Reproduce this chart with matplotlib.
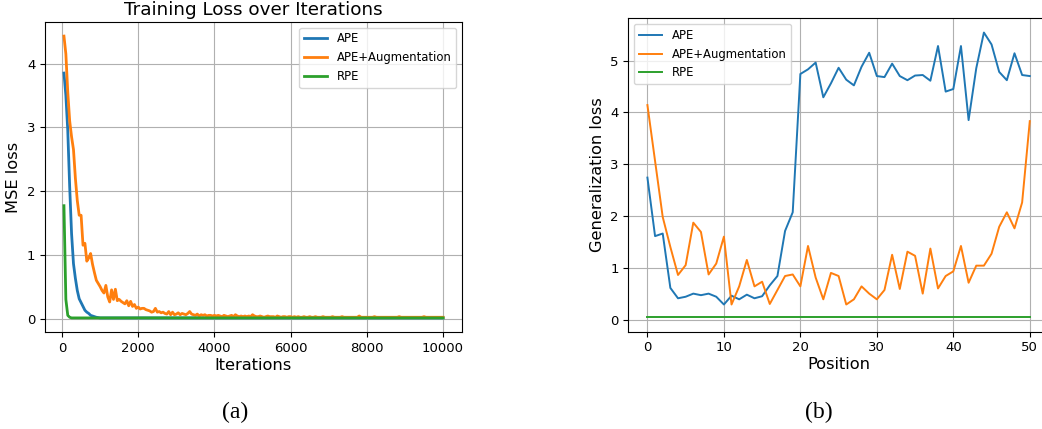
import numpy as np
import matplotlib
matplotlib.use("Agg")
import matplotlib.pyplot as plt

# ---- (a) training loss, logged every 50 iterations ----
iterations = np.arange(50, 10001, 50)

loss_ape = [
    3.85, 3.50, 2.95, 2.07, 1.33, 0.86, 0.63, 0.44, 0.31, 0.25,
    0.19, 0.13, 0.10, 0.08, 0.05, 0.04, 0.03, 0.02, 0.015, 0.01,
    0.01, 0.01, 0.01, 0.01, 0.01, 0.01, 0.01, 0.01, 0.01, 0.01,
    0.01, 0.01, 0.01, 0.01, 0.01, 0.01, 0.01, 0.01, 0.01, 0.01,
    0.01, 0.01, 0.01, 0.01, 0.01, 0.01, 0.01, 0.01, 0.01, 0.01,
    0.01, 0.01, 0.01, 0.01, 0.01, 0.01, 0.01, 0.01, 0.01, 0.01,
    0.01, 0.01, 0.01, 0.01, 0.01, 0.01, 0.01, 0.01, 0.01, 0.01,
    0.01, 0.01, 0.01, 0.01, 0.01, 0.01, 0.01, 0.01, 0.01, 0.01,
    0.01, 0.01, 0.01, 0.01, 0.01, 0.01, 0.01, 0.01, 0.01, 0.01,
    0.01, 0.01, 0.01, 0.01, 0.01, 0.01, 0.01, 0.01, 0.01, 0.01,
    0.01, 0.01, 0.01, 0.01, 0.01, 0.01, 0.01, 0.01, 0.01, 0.01,
    0.01, 0.01, 0.01, 0.01, 0.01, 0.01, 0.01, 0.01, 0.01, 0.01,
    0.01, 0.01, 0.01, 0.01, 0.01, 0.01, 0.01, 0.01, 0.01, 0.01,
    0.01, 0.01, 0.01, 0.01, 0.01, 0.01, 0.01, 0.01, 0.01, 0.01,
    0.01, 0.01, 0.01, 0.01, 0.01, 0.01, 0.01, 0.01, 0.01, 0.01,
    0.01, 0.01, 0.01, 0.01, 0.01, 0.01, 0.01, 0.01, 0.01, 0.01,
    0.01, 0.01, 0.01, 0.01, 0.01, 0.01, 0.01, 0.01, 0.01, 0.01,
    0.01, 0.01, 0.01, 0.01, 0.01, 0.01, 0.01, 0.01, 0.01, 0.01,
    0.01, 0.01, 0.01, 0.01, 0.01, 0.01, 0.01, 0.01, 0.01, 0.01,
    0.01, 0.01, 0.01, 0.01, 0.01, 0.01, 0.01, 0.01, 0.01, 0.01,
]

loss_ape_aug = [
    4.43, 4.15, 3.55, 3.10, 2.85, 2.65, 2.20, 1.85, 1.62, 1.62,
    1.15, 1.18, 0.90, 0.95, 1.02, 0.85, 0.72, 0.60, 0.55, 0.50,
    0.44, 0.40, 0.52, 0.34, 0.26, 0.45, 0.30, 0.46, 0.28, 0.30,
    0.27, 0.25, 0.23, 0.28, 0.20, 0.27, 0.19, 0.22, 0.16, 0.18,
    0.15, 0.16, 0.16, 0.14, 0.13, 0.12, 0.10, 0.11, 0.16, 0.10,
    0.11, 0.09, 0.10, 0.08, 0.07, 0.11, 0.06, 0.10, 0.06, 0.07,
    0.09, 0.06, 0.08, 0.07, 0.06, 0.08, 0.11, 0.07, 0.06, 0.05,
    0.07, 0.04, 0.06, 0.05, 0.06, 0.04, 0.05, 0.05, 0.04, 0.05,
    0.04, 0.05, 0.04, 0.03, 0.05, 0.04, 0.03, 0.04, 0.05, 0.03,
    0.06, 0.04, 0.03, 0.04, 0.03, 0.04, 0.03, 0.04, 0.03, 0.06,
    0.04, 0.03, 0.03, 0.04, 0.03, 0.02, 0.03, 0.04, 0.03, 0.03,
    0.03, 0.02, 0.04, 0.03, 0.02, 0.03, 0.03, 0.02, 0.03, 0.03,
    0.02, 0.03, 0.02, 0.03, 0.02, 0.02, 0.03, 0.02, 0.02, 0.03,
    0.02, 0.02, 0.03, 0.02, 0.02, 0.02, 0.03, 0.02, 0.02, 0.02,
    0.02, 0.03, 0.02, 0.02, 0.02, 0.02, 0.03, 0.02, 0.02, 0.02,
    0.02, 0.02, 0.02, 0.02, 0.02, 0.04, 0.02, 0.02, 0.02, 0.02,
    0.02, 0.02, 0.02, 0.03, 0.02, 0.02, 0.02, 0.02, 0.02, 0.02,
    0.02, 0.02, 0.02, 0.02, 0.02, 0.02, 0.03, 0.02, 0.02, 0.02,
    0.02, 0.02, 0.02, 0.02, 0.02, 0.02, 0.02, 0.02, 0.02, 0.03,
    0.02, 0.02, 0.02, 0.02, 0.02, 0.02, 0.02, 0.02, 0.02, 0.02,
]

loss_rpe = [
    1.77, 0.30, 0.05, 0.02, 0.01, 0.01, 0.01, 0.01, 0.01, 0.01,
    0.01, 0.01, 0.01, 0.01, 0.01, 0.01, 0.01, 0.01, 0.01, 0.01,
    0.01, 0.01, 0.01, 0.01, 0.01, 0.01, 0.01, 0.01, 0.01, 0.01,
    0.01, 0.01, 0.01, 0.01, 0.01, 0.01, 0.01, 0.01, 0.01, 0.01,
    0.01, 0.01, 0.01, 0.01, 0.01, 0.01, 0.01, 0.01, 0.01, 0.01,
    0.01, 0.01, 0.01, 0.01, 0.01, 0.01, 0.01, 0.01, 0.01, 0.01,
    0.01, 0.01, 0.01, 0.01, 0.01, 0.01, 0.01, 0.01, 0.01, 0.01,
    0.01, 0.01, 0.01, 0.01, 0.01, 0.01, 0.01, 0.01, 0.01, 0.01,
    0.01, 0.01, 0.01, 0.01, 0.01, 0.01, 0.01, 0.01, 0.01, 0.01,
    0.01, 0.01, 0.01, 0.01, 0.01, 0.01, 0.01, 0.01, 0.01, 0.01,
    0.01, 0.01, 0.01, 0.01, 0.01, 0.01, 0.01, 0.01, 0.01, 0.01,
    0.01, 0.01, 0.01, 0.01, 0.01, 0.01, 0.01, 0.01, 0.01, 0.01,
    0.01, 0.01, 0.01, 0.01, 0.01, 0.01, 0.01, 0.01, 0.01, 0.01,
    0.01, 0.01, 0.01, 0.01, 0.01, 0.01, 0.01, 0.01, 0.01, 0.01,
    0.01, 0.01, 0.01, 0.01, 0.01, 0.01, 0.01, 0.01, 0.01, 0.01,
    0.01, 0.01, 0.01, 0.01, 0.01, 0.01, 0.01, 0.01, 0.01, 0.01,
    0.01, 0.01, 0.01, 0.01, 0.01, 0.01, 0.01, 0.01, 0.01, 0.01,
    0.01, 0.01, 0.01, 0.01, 0.01, 0.01, 0.01, 0.01, 0.01, 0.01,
    0.01, 0.01, 0.01, 0.01, 0.01, 0.01, 0.01, 0.01, 0.01, 0.01,
    0.01, 0.01, 0.01, 0.01, 0.01, 0.01, 0.01, 0.01, 0.01, 0.01,
]

# ---- (b) generalization loss per position ----
positions = np.arange(0, 51)

gen_ape = [
    2.74, 1.61, 1.66, 0.61, 0.41, 0.44, 0.50, 0.47, 0.50, 0.44,
    0.29, 0.46, 0.39, 0.48, 0.41, 0.45, 0.66, 0.84, 1.71, 2.07,
    4.74, 4.83, 4.96, 4.29, 4.56, 4.86, 4.63, 4.52, 4.88, 5.15,
    4.70, 4.68, 4.94, 4.70, 4.62, 4.71, 4.72, 4.61, 5.28, 4.40,
    4.45, 5.28, 3.85, 4.85, 5.54, 5.31, 4.78, 4.62, 5.14, 4.72,
    4.70,
]

gen_ape_aug = [
    4.14, 3.06, 1.98, 1.40, 0.86, 1.05, 1.87, 1.69, 0.87, 1.08,
    1.60, 0.29, 0.64, 1.15, 0.64, 0.73, 0.30, 0.57, 0.84, 0.87,
    0.64, 1.42, 0.81, 0.39, 0.90, 0.84, 0.29, 0.39, 0.64, 0.50,
    0.39, 0.57, 1.25, 0.59, 1.31, 1.23, 0.50, 1.37, 0.60, 0.84,
    0.93, 1.42, 0.71, 1.04, 1.04, 1.27, 1.79, 2.07, 1.76, 2.26,
    3.83,
]

gen_rpe = [
    0.04, 0.04, 0.04, 0.04, 0.04, 0.04, 0.04, 0.04, 0.04, 0.04,
    0.04, 0.04, 0.04, 0.04, 0.04, 0.04, 0.04, 0.04, 0.04, 0.04,
    0.04, 0.04, 0.04, 0.04, 0.04, 0.04, 0.04, 0.04, 0.04, 0.04,
    0.04, 0.04, 0.04, 0.04, 0.04, 0.04, 0.04, 0.04, 0.04, 0.04,
    0.04, 0.04, 0.04, 0.04, 0.04, 0.04, 0.04, 0.04, 0.04, 0.04,
    0.04,
]

series_labels = ["APE", "APE+Augmentation", "RPE"]
colors = ["#1f77b4", "#ff7f0e", "#2ca02c"]

W, H = 1042, 429
fig = plt.figure(figsize=(W / 100, H / 100), dpi=100)


def frac(x0, y_top, x1, y_bot):
    return [x0 / W, 1 - y_bot / H, (x1 - x0) / W, (y_bot - y_top) / H]


TICK_FS = 9.5
LABEL_FS = 11.7
LEGEND_FS = 8.4

# (a)
ax1 = fig.add_axes(frac(45, 22, 462, 332))
for ys, lab, c in zip([loss_ape, loss_ape_aug, loss_rpe], series_labels, colors):
    ax1.plot(iterations, ys, color=c, lw=2.0, label=lab)
ax1.set_title("Training Loss over Iterations", fontsize=13.2, pad=5)
ax1.set_xlabel("Iterations", fontsize=LABEL_FS, labelpad=2)
ax1.set_ylabel("MSE loss", fontsize=LABEL_FS)
ax1.set_xticks([0, 2000, 4000, 6000, 8000, 10000])
ax1.set_yticks([0, 1, 2, 3, 4])
ax1.tick_params(labelsize=TICK_FS)
ax1.grid(True)
ax1.legend(loc="upper right", fontsize=LEGEND_FS)

# (b)
ax2 = fig.add_axes(frac(628.3, 18.3, 1048.9, 331.7))
for ys, lab, c in zip([gen_ape, gen_ape_aug, gen_rpe], series_labels, colors):
    ax2.plot(positions, ys, color=c, lw=1.4, label=lab)
ax2.set_xlabel("Position", fontsize=LABEL_FS, labelpad=2)
ax2.set_ylabel("Generalization loss", fontsize=LABEL_FS)
ax2.set_xticks([0, 10, 20, 30, 40, 50])
ax2.set_yticks([0, 1, 2, 3, 4, 5])
ax2.tick_params(labelsize=TICK_FS)
ax2.grid(True)
ax2.legend(loc="upper left", fontsize=LEGEND_FS)

# sub-figure captions
fig.text(235.5 / W, 1 - 412.7 / H, "(a)", family="Liberation Serif",
         fontsize=17, ha="center", va="center")
fig.text(819 / W, 1 - 412.7 / H, "(b)", family="Liberation Serif",
         fontsize=17, ha="center", va="center")

fig.savefig("out.png", dpi=100)
